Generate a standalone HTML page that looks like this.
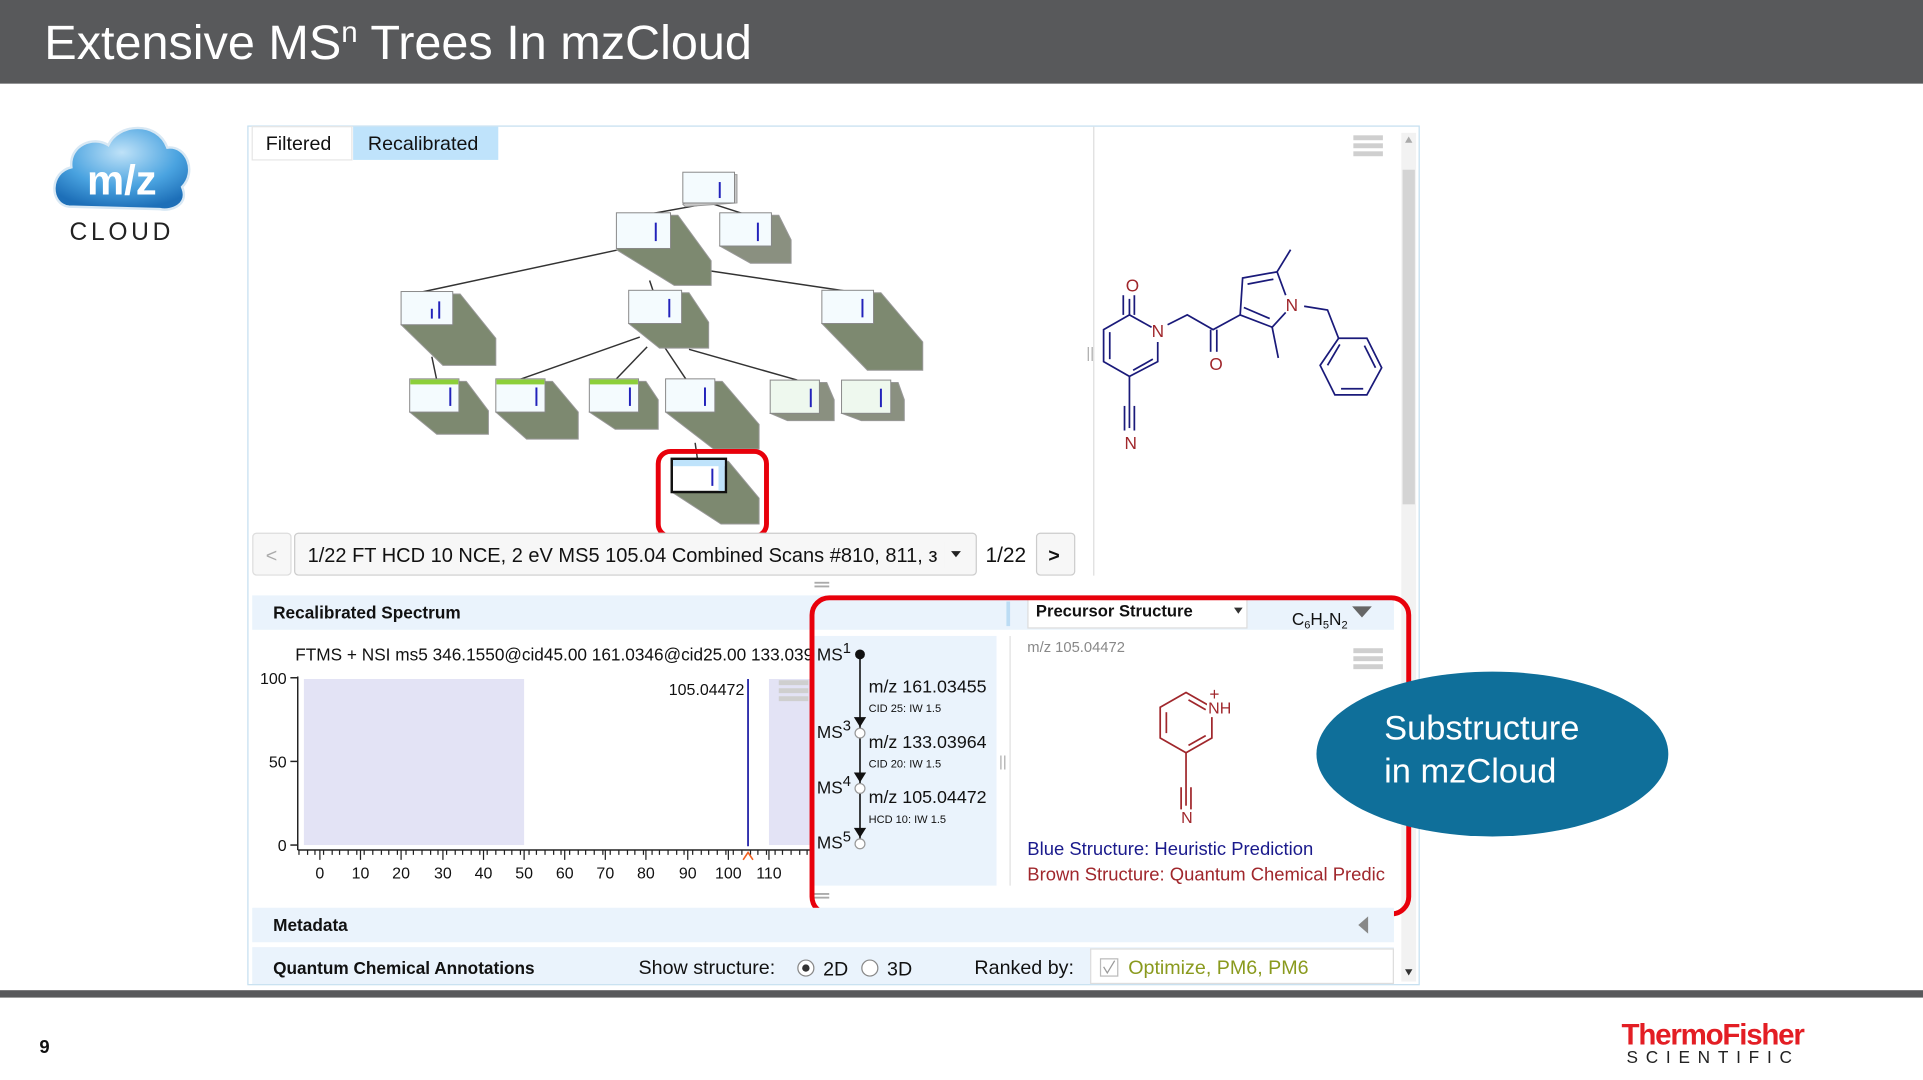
<!DOCTYPE html>
<html><head><meta charset="utf-8"><style>
html,body{margin:0;padding:0;background:#fff;overflow:hidden;}
svg{display:block;}
text{font-family:"Liberation Sans",sans-serif;}
</style></head><body>
<svg width="1923" height="1080" viewBox="0 0 1563 878" preserveAspectRatio="none" xmlns="http://www.w3.org/2000/svg">
<defs>
<radialGradient id="cg" cx="0.5" cy="0.3" r="0.7"><stop offset="0" stop-color="#bfe2f8"/><stop offset="0.6" stop-color="#4aa3e0"/><stop offset="1" stop-color="#1d6fb8"/></radialGradient>
<g id="mi"><rect x="0" y="0" width="24" height="4" fill="#cfcfcf"/><rect x="0" y="6.5" width="24" height="4" fill="#cfcfcf"/><rect x="0" y="13" width="24" height="4" fill="#cfcfcf"/></g>
</defs>
<!-- header -->
<rect x="0" y="0" width="1563" height="68" fill="#58595b"/>
<text x="36" y="48" font-size="39.5" fill="#fff">Extensive MS<tspan font-size="24" dy="-14">n</tspan><tspan dy="14"> Trees In mzCloud</tspan></text>

<!-- logo -->
<path d="M56,168 C40,166 40,140 58,136 C56,118 76,110 88,118 C96,100 128,98 136,120 C152,118 160,140 148,152 C154,166 140,172 130,170 Z" fill="url(#cg)" stroke="#d8e8f4" stroke-width="2"/>
<text x="99" y="158" font-size="34" font-weight="bold" fill="#fff" text-anchor="middle">m/z</text>
<text x="99" y="195" font-size="20" fill="#222" text-anchor="middle" letter-spacing="3">CLOUD</text>

<!-- main panel -->
<rect x="201.5" y="102.5" width="952" height="698" fill="#fff" stroke="#c5dff0"/>
<rect x="205" y="103" width="81" height="27" fill="#fff" stroke="#e6e6e6"/>
<text x="216" y="122" font-size="16" fill="#111">Filtered</text>
<rect x="287" y="103" width="118" height="27" fill="#bfe3fb"/>
<text x="299" y="122" font-size="16" fill="#111">Recalibrated</text>
<line x1="889" y1="103" x2="889" y2="468" stroke="#ddd"/>
<use href="#mi" x="1100" y="110"/>
<!-- scrollbar -->
<rect x="1139" y="108" width="12" height="690" fill="#f2f2f2"/>
<rect x="1140" y="138" width="10" height="272" fill="#d4d4d4"/>
<path d="M1142,116 L1148,116 L1145,111 Z" fill="#aaa"/>
<path d="M1142,788 L1148,788 L1145,793 Z" fill="#333"/>

<!-- tree connectors -->
<g stroke="#333" stroke-width="1.2" fill="none">
<line x1="572" y1="166" x2="528" y2="174"/>
<line x1="580" y1="166" x2="605" y2="174"/>
<line x1="503" y1="203" x2="340" y2="238"/>
<line x1="562" y1="218" x2="690" y2="237"/>
<line x1="528" y1="228" x2="531" y2="237"/>
<line x1="351" y1="290" x2="355" y2="309"/>
<line x1="520" y1="274" x2="421" y2="309"/>
<line x1="526" y1="282" x2="500" y2="309"/>
<line x1="540" y1="282" x2="558" y2="309"/>
<line x1="560" y1="284" x2="648" y2="309"/>
<line x1="704" y1="322" x2="708" y2="310"/>
<line x1="565" y1="360" x2="567" y2="374"/>
</g>

<!-- tree nodes -->
<g stroke="#999" stroke-width="0.8">
<polygon points="597,142 599,142 599,165 557,168 555,166" fill="#c8c8c8"/>
<polygon points="545,175 551,175 578,212 578,232 548,232 501,203" fill="#7d8970"/>
<polygon points="627,175 633,175 643,195 643,214 610,214 585,200" fill="#8a9080"/>
<polygon points="368,239 374,239 403,275 403,297 360,297 326,264" fill="#7d8970"/>
<polygon points="554,238 560,238 576,262 576,283 536,283 511,263" fill="#7d8970"/>
<polygon points="710,238 716,238 750,278 750,301 705,301 668,263" fill="#7d8970"/>
<polygon points="373,310 379,310 397,334 397,353 355,353 333,335" fill="#7d8970"/>
<polygon points="443,310 449,310 470,335 470,357 428,357 403,335" fill="#7d8970"/>
<polygon points="519,310 525,310 535,325 535,349 500,349 479,335" fill="#7d8970"/>
<polygon points="581,310 587,310 617,345 617,365 580,365 541,335" fill="#7d8970"/>
<polygon points="666,311 672,311 678,325 678,342 640,342 626,336" fill="#8a9080"/>
<polygon points="724,311 730,311 735,325 735,342 700,342 684,336" fill="#8a9080"/>
<polygon points="586,375 592,375 617,405 617,426 586,426 546,400" fill="#7d8970"/>
<rect x="555" y="140" width="42" height="25" fill="#f4fbfe" stroke="#888"/>
<rect x="501" y="173" width="44" height="29" fill="#f4fbfe" stroke="#888"/>
<rect x="585" y="173" width="42" height="27" fill="#f4fbfe" stroke="#888"/>
<rect x="326" y="237" width="42" height="27" fill="#f4fbfe" stroke="#888"/>
<rect x="511" y="236" width="43" height="27" fill="#f4fbfe" stroke="#888"/>
<rect x="668" y="236" width="42" height="27" fill="#f4fbfe" stroke="#888"/>
<rect x="333" y="308" width="40" height="27" fill="#f4fbfe" stroke="#888"/>
<rect x="403" y="308" width="40" height="27" fill="#f4fbfe" stroke="#888"/>
<rect x="479" y="308" width="40" height="27" fill="#f4fbfe" stroke="#888"/>
<rect x="541" y="308" width="40" height="27" fill="#f4fbfe" stroke="#888"/>
<rect x="626" y="309" width="40" height="27" fill="#eef8ee" stroke="#888"/>
<rect x="684" y="309" width="40" height="27" fill="#eef8ee" stroke="#888"/>
</g>
<rect x="333.5" y="308.5" width="39" height="4" fill="#8ccf3a"/>
<rect x="403.5" y="308.5" width="39" height="4" fill="#8ccf3a"/>
<rect x="479.5" y="308.5" width="39" height="4" fill="#8ccf3a"/>
<rect x="546" y="373" width="44" height="27" fill="#fff" stroke="#111" stroke-width="2"/>
<rect x="547" y="374" width="42" height="5" fill="#bfe3fb"/>
<rect x="584" y="374" width="5" height="25" fill="#bfe3fb"/>
<g stroke="#2222bb" stroke-width="1.6">
<line x1="585" y1="148" x2="585" y2="161"/><line x1="533" y1="181" x2="533" y2="196"/><line x1="616" y1="181" x2="616" y2="196"/>
<line x1="351" y1="251" x2="351" y2="259"/><line x1="357" y1="245" x2="357" y2="259"/><line x1="544" y1="243" x2="544" y2="258"/><line x1="701" y1="243" x2="701" y2="258"/>
<line x1="366" y1="315" x2="366" y2="330"/><line x1="436" y1="315" x2="436" y2="330"/><line x1="512" y1="315" x2="512" y2="330"/><line x1="573" y1="315" x2="573" y2="330"/><line x1="659" y1="316" x2="659" y2="331"/><line x1="716" y1="316" x2="716" y2="331"/>
<line x1="579" y1="381" x2="579" y2="395"/>
</g>
<rect x="535" y="367" width="88" height="69" rx="10" fill="none" stroke="#e8000b" stroke-width="4"/>

<!-- dropdown row -->
<rect x="205.5" y="433.5" width="31" height="34" rx="3" fill="#f7f7f7" stroke="#ddd"/>
<text x="216" y="457" font-size="16" fill="#aaa">&lt;</text>
<rect x="239.5" y="433.5" width="554" height="34" rx="3" fill="#f7f7f7" stroke="#ccc"/>
<text x="250" y="457" font-size="16.3" fill="#111" textLength="512" lengthAdjust="spacingAndGlyphs">1/22 FT HCD 10 NCE, 2 eV MS5 105.04 Combined Scans  #810, 811, &#1079;</text>
<rect x="768" y="440" width="20" height="22" fill="#f7f7f7"/>
<path d="M773,448 L781,448 L777,453 Z" fill="#222"/>
<text x="801" y="457" font-size="17" fill="#111">1/22</text>
<rect x="842.5" y="433.5" width="31" height="34" rx="3" fill="#f7f7f7" stroke="#ccc"/>
<text x="852" y="457" font-size="16" font-weight="bold" fill="#111">&gt;</text>
<text x="883" y="291" font-size="12" fill="#aaa">||</text>
<rect x="662" y="473" width="12" height="1.5" fill="#aaa"/><rect x="662" y="476" width="12" height="1.5" fill="#aaa"/>

<!-- Recalibrated Spectrum -->
<rect x="205" y="484" width="928" height="28" fill="#eaf3fc"/>
<text x="222" y="503" font-size="14" font-weight="bold" fill="#111">Recalibrated Spectrum</text>
<text x="240" y="537" font-size="14" fill="#111">FTMS + NSI ms5 346.1550@cid45.00 161.0346@cid25.00 133.0396@cid</text>
<rect x="247" y="552" width="179" height="135" fill="#e3e3f5"/>
<rect x="625" y="552" width="35" height="135" fill="#e3e3f5"/>
<use href="#mi" x="633" y="553" />
<line x1="608" y1="552" x2="608" y2="688" stroke="#2929aa" stroke-width="1.5"/>
<text x="605" y="565" font-size="13" fill="#111" text-anchor="end">105.04472</text>
<g stroke="#222" stroke-width="1.2">
<line x1="242" y1="550" x2="242" y2="691"/><line x1="242" y1="691" x2="660" y2="691"/>
<line x1="236" y1="551" x2="242" y2="551"/><line x1="236" y1="619" x2="242" y2="619"/><line x1="236" y1="687" x2="242" y2="687"/>
</g>
<text x="233" y="556" font-size="13" fill="#111" text-anchor="end">100</text>
<text x="233" y="624" font-size="13" fill="#111" text-anchor="end">50</text>
<text x="233" y="692" font-size="13" fill="#111" text-anchor="end">0</text>
<g stroke="#222" stroke-width="1">
<path d="M260,691v8M293,691v8M326,691v8M360,691v8M393,691v8M426,691v8M459,691v8M492,691v8M525,691v8M559,691v8M592,691v8M625,691v8"/>
<path d="M243,691v4M250,691v4M256,691v4M263,691v4M270,691v4M276,691v4M283,691v4M290,691v4M296,691v4M303,691v4M310,691v4M316,691v4M323,691v4M330,691v4M336,691v4M343,691v4M350,691v4M356,691v4M363,691v4M370,691v4M376,691v4M383,691v4M390,691v4M396,691v4M403,691v4M410,691v4M416,691v4M423,691v4M430,691v4M436,691v4M443,691v4M450,691v4M456,691v4M463,691v4M470,691v4M476,691v4M483,691v4M490,691v4M496,691v4M503,691v4M510,691v4M516,691v4M523,691v4M530,691v4M536,691v4M543,691v4M550,691v4M556,691v4M563,691v4M570,691v4M576,691v4M583,691v4M590,691v4M596,691v4M603,691v4M610,691v4M616,691v4M623,691v4M630,691v4M636,691v4M643,691v4M650,691v4M656,691v4"/>
</g>
<path d="M604,699 L608,693 L612,699" stroke="#f06020" fill="none" stroke-width="1.3"/>
<g font-size="13" fill="#111" text-anchor="middle">
<text x="260" y="714">0</text><text x="293" y="714">10</text><text x="326" y="714">20</text><text x="360" y="714">30</text><text x="393" y="714">40</text><text x="426" y="714">50</text><text x="459" y="714">60</text><text x="492" y="714">70</text><text x="525" y="714">80</text><text x="559" y="714">90</text><text x="592" y="714">100</text><text x="625" y="714">110</text>
</g>
<rect x="662" y="726" width="12" height="1.5" fill="#aaa"/><rect x="662" y="729" width="12" height="1.5" fill="#aaa"/>

<!-- MS tree column -->
<rect x="662" y="517" width="148" height="203" fill="#eaf3fc"/>
<line x1="699" y1="532" x2="699" y2="683" stroke="#111" stroke-width="1.3"/>
<circle cx="699" cy="532" r="4" fill="#111"/>
<circle cx="699" cy="596" r="4" fill="#fff" stroke="#999"/><circle cx="699" cy="641" r="4" fill="#fff" stroke="#999"/><circle cx="699" cy="686" r="4" fill="#fff" stroke="#999"/>
<path d="M694,583 L704,583 L699,591 Z M694,628 L704,628 L699,636 Z M694,673 L704,673 L699,681 Z" fill="#111"/>
<g font-size="14" fill="#111">
<text x="664" y="537">MS<tspan font-size="12" dy="-6">1</tspan></text>
<text x="664" y="600">MS<tspan font-size="12" dy="-6">3</tspan></text>
<text x="664" y="645">MS<tspan font-size="12" dy="-6">4</tspan></text>
<text x="664" y="690">MS<tspan font-size="12" dy="-6">5</tspan></text>
</g>
<g fill="#111">
<text x="706" y="563" font-size="14.5">m/z 161.03455</text><text x="706" y="579" font-size="9">CID 25: IW 1.5</text>
<text x="706" y="608" font-size="14.5">m/z 133.03964</text><text x="706" y="624" font-size="9">CID 20: IW 1.5</text>
<text x="706" y="653" font-size="14.5">m/z 105.04472</text><text x="706" y="669" font-size="9">HCD 10: IW 1.5</text>
</g>
<text x="812" y="623" font-size="12" fill="#aaa">||</text>
<line x1="821" y1="517" x2="821" y2="720" stroke="#e0e0e0"/>
<rect x="818" y="489" width="3" height="20" fill="#bcdcf4"/>
<rect x="835.5" y="486.5" width="178" height="24" fill="#fff" stroke="#ddd"/>
<text x="842" y="501" font-size="13.5" font-weight="bold" fill="#111">Precursor Structure</text>
<path d="M1003,494 L1010,494 L1006.5,499 Z" fill="#333"/>
<text x="1050" y="508" font-size="14" fill="#111">C<tspan font-size="9" dy="3">6</tspan><tspan dy="-3">H</tspan><tspan font-size="9" dy="3">5</tspan><tspan dy="-3">N</tspan><tspan font-size="9" dy="3">2</tspan></text>
<path d="M1099,493 L1115,493 L1107,502 Z" fill="#666"/>
<text x="835" y="530" font-size="12" fill="#888">m/z 105.04472</text>
<use href="#mi" x="1100" y="527" />
<!-- pyridinium -->
<g stroke="#a0272c" stroke-width="1.4" fill="none">
<path d="M964,563 L985,575 L985,600 L964,612 L943,600 L943,575 Z"/>
<line x1="948" y1="579" x2="948" y2="596"/><line x1="966" y1="569" x2="980" y2="577"/><line x1="966" y1="606" x2="980" y2="598"/>
<line x1="964" y1="612" x2="964" y2="655"/><line x1="960" y1="640" x2="960" y2="658"/><line x1="968" y1="640" x2="968" y2="658"/>
</g>
<rect x="981" y="570" width="22" height="13" fill="#fff"/>
<text x="982" y="580" font-size="13" fill="#a0272c">NH</text>
<text x="983" y="569" font-size="14" fill="#a0272c">+</text>
<text x="960" y="669" font-size="13" fill="#a0272c">N</text>
<text x="835" y="695" font-size="15" fill="#1a1a8c">Blue Structure: Heuristic Prediction</text>
<text x="835" y="716" font-size="15" fill="#a0272c">Brown Structure: Quantum Chemical Predic</text>

<!-- big molecule -->
<g stroke="#1a1a7a" stroke-width="1.4" fill="none">
<path d="M918,243 L918,256 L897,268 L897,294 L918,306 L941,294 L941,278"/>
<line x1="913" y1="240" x2="913" y2="256"/><line x1="922" y1="240" x2="922" y2="256"/>
<line x1="918" y1="256" x2="936" y2="266"/>
<line x1="902" y1="270" x2="902" y2="292"/><line x1="921" y1="301" x2="937" y2="292"/>
<line x1="918" y1="306" x2="918" y2="348"/><line x1="914" y1="330" x2="914" y2="350"/><line x1="922" y1="330" x2="922" y2="350"/>
<path d="M949,264 L965,256 L986,268 L1008,256"/>
<line x1="984" y1="268" x2="984" y2="286"/><line x1="989" y1="268" x2="989" y2="286"/>
<path d="M1008,256 L1010,226 L1038,221 L1045,240"/><line x1="1014" y1="231" x2="1035" y2="227"/>
<path d="M1008,256 L1034,266 L1045,254"/><line x1="1011" y1="250" x2="1032" y2="259"/>
<line x1="1038" y1="221" x2="1049" y2="203"/><line x1="1034" y1="266" x2="1039" y2="291"/>
<path d="M1060,249 L1079,252 L1088,275"/>
<path d="M1088,275 L1111,275 L1123,299 L1111,321 L1085,321 L1073,297 Z"/>
<line x1="1079" y1="297" x2="1089" y2="280"/><line x1="1109" y1="281" x2="1118" y2="299"/><line x1="1090" y1="316" x2="1108" y2="316"/>
</g>
<g font-size="14" fill="#a0272c"><text x="915" y="237">O</text><text x="983" y="301">O</text></g>
<g font-size="14" fill="#a0272c"><text x="936" y="274">N</text><text x="1045" y="253">N</text><text x="914" y="365">N</text></g>

<!-- red box bottom -->
<rect x="660" y="486" width="485" height="257" rx="14" fill="none" stroke="#e8000b" stroke-width="4"/>

<!-- Metadata & annotations -->
<rect x="205" y="738" width="928" height="28" fill="#eaf3fc"/>
<text x="222" y="757" font-size="14" font-weight="bold" fill="#111">Metadata</text>
<path d="M1112,745 L1112,759 L1104,752 Z" fill="#888"/>
<rect x="205" y="770" width="928" height="30" fill="#eaf3fc"/>
<text x="222" y="792" font-size="14" font-weight="bold" fill="#111">Quantum Chemical Annotations</text>
<text x="519" y="792" font-size="16" fill="#111">Show structure:</text>
<circle cx="655" cy="787" r="6.5" fill="#fff" stroke="#888"/><circle cx="655" cy="787" r="3" fill="#333"/>
<text x="669" y="793" font-size="16" fill="#111">2D</text>
<circle cx="707" cy="787" r="6.5" fill="#fff" stroke="#888"/>
<text x="721" y="793" font-size="16" fill="#111">3D</text>
<text x="792" y="792" font-size="16" fill="#111">Ranked by:</text>
<rect x="886.5" y="771.5" width="246" height="28" fill="#fff" stroke="#ddd"/>
<rect x="894.5" y="779.5" width="14" height="14" fill="#fff" stroke="#bbb"/>
<path d="M897,786 L900,791 L906,781" stroke="#999" fill="none"/>
<text x="917" y="792" font-size="16" fill="#8a9a1e">Optimize, PM6, PM6</text>

<!-- callout ellipse -->
<ellipse cx="1213" cy="613" rx="143" ry="67" fill="#0f6f9a"/>
<text x="1125" y="601" font-size="28" fill="#fff">Substructure</text>
<text x="1125" y="636" font-size="28" fill="#fff">in mzCloud</text>

<!-- footer -->
<rect x="0" y="805" width="1563" height="6" fill="#58595b"/>
<text x="32" y="856" font-size="15" font-weight="bold" fill="#111">9</text>
<text x="1318" y="849" font-size="24" font-weight="bold" fill="#e31e24" letter-spacing="-1">ThermoFisher</text>
<text x="1322" y="864" font-size="14" fill="#222" letter-spacing="6.3">SCIENTIFIC</text>
</svg>
</body></html>
